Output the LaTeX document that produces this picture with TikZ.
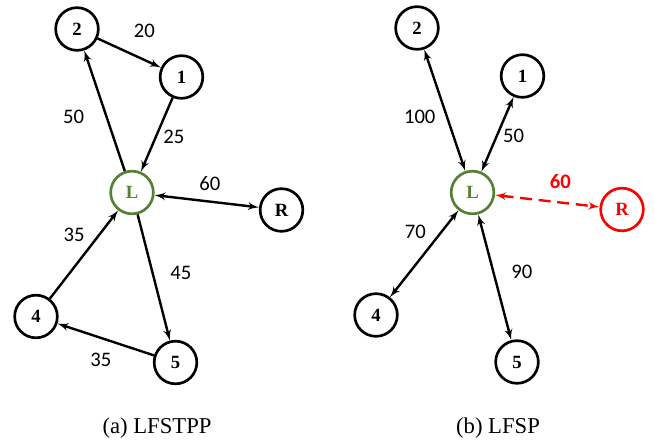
\documentclass[tikz,border=0pt]{standalone}
\usepackage{fontspec}
\setmainfont{Liberation Serif}
\newfontfamily\numfont{Carlito}
\usepackage{xcolor}
\usepackage{tikz}
\usetikzlibrary{arrows}
\definecolor{leadgreen}{RGB}{84,130,53}
\definecolor{remred}{RGB}{255,0,0}
\tikzset{oneway/.style = {->,> = latex'}}
\tikzset{twoway/.style = {<->,> = latex'}}

\begin{document}
\begin{tikzpicture}[x=0.75pt,y=-0.75pt,line width=1.8pt,main node/.style={circle,draw,line width=2pt,minimum size=32pt,inner sep=0pt,font=\fontsize{14}{16}\selectfont\bfseries},weight/.style={font=\numfont\fontsize{15.5}{18}\selectfont},caption/.style={font=\fontsize{17}{20}\selectfont}]
            \useasboundingbox (0,0) rectangle (654,445);
            % (a) LFSTPP
            \node[main node] (a2) at (77,29) {2};
            \node[main node] (a1) at (181.5,77) {1};
            \node[main node,leadgreen] (aL) at (132,192.5) {L};
            \node[main node] (aR) at (281.5,210) {R};
            \node[main node] (a4) at (36,316.5) {4};
            \node[main node] (a5) at (175.5,362.5) {5};
            \path[every node/.style={weight}]
                (a2) edge[oneway] node[shift={(15,-22)}] {20} (a1)
                (aL) edge[oneway] node[shift={(-31,6)}] {50} (a2)
                (a1) edge[oneway] node[shift={(17,2)}] {25} (aL)
                (aL) edge[twoway] node[shift={(3,-18)}] {60} (aR)
                (a4) edge[oneway] node[shift={(-10,-20)}] {35} (aL)
                (aL) edge[oneway] node[shift={(27,-5)}] {45} (a5)
                (a5) edge[oneway] node[shift={(-5,20)}] {35} (a4);
            \node[caption] (capA) at (157,428) {(a)\ LFSTPP};
            % (b) LFSP
            \node[main node] (b2) at (417,28) {2};
            \node[main node] (b1) at (522.5,76) {1};
            \node[main node,leadgreen] (bL) at (472.5,192.5) {L};
            \node[main node,remred] (bR) at (622,209.5) {R};
            \node[main node] (b4) at (376,315) {4};
            \node[main node] (b5) at (517,362) {5};
            \path[every node/.style={weight}]
                (bL) edge[twoway] node[shift={(-25,7)}] {100} (b2)
                (bL) edge[twoway] node[shift={(16,2)}] {50} (b1)
                (bL) edge[twoway,remred,dash pattern=on 9pt off 5pt] node[shift={(13,-19)},font=\numfont\fontsize{15.5}{18}\selectfont\bfseries] {60} (bR)
                (bL) edge[twoway] node[shift={(-9,-22)}] {70} (b4)
                (bL) edge[twoway] node[shift={(27,-5)}] {90} (b5);
            \node[caption] (capB) at (498,428) {(b)\ LFSP};
        \end{tikzpicture}
\end{document}
